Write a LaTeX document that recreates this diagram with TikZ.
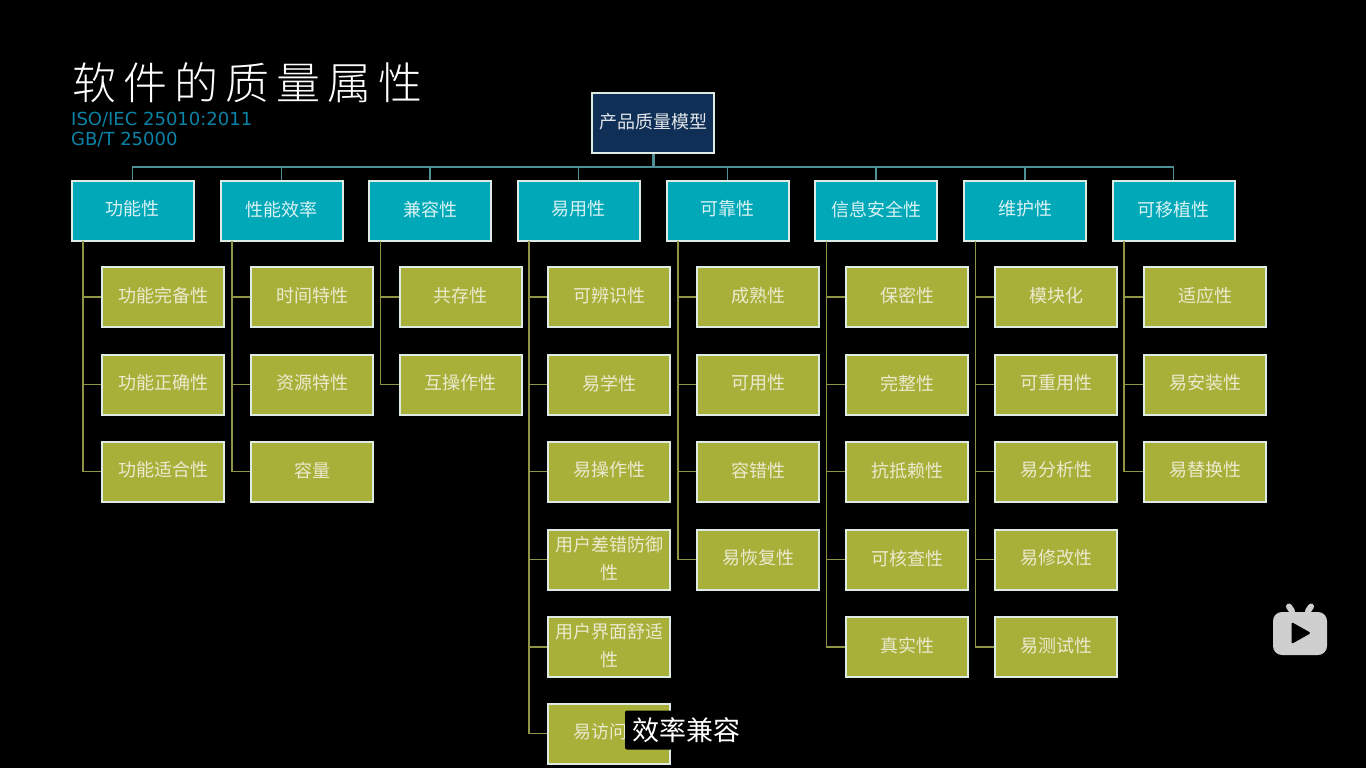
\documentclass[tikz,border=0pt]{standalone}
\usepackage{fontspec}
\setmainfont{Noto Sans CJK SC}
\newfontfamily\latinf{DejaVu Sans}
\newfontfamily\titlef[LetterSpace=16]{Noto Sans CJK SC Light}
\definecolor{navyfill}{HTML}{0F2F56}
\definecolor{tealfill}{HTML}{00A8B8}
\definecolor{olivefill}{HTML}{A9B03A}
\definecolor{tealline}{HTML}{4E9095}
\definecolor{oliveline}{HTML}{8F9545}
\definecolor{subblue}{HTML}{0B83A6}
\definecolor{edgec}{HTML}{DDEBE3}
\definecolor{logogrey}{HTML}{CFCFCF}
\newcommand{\liftstrut}{\rule[-4.2pt]{0pt}{0pt}}
\tikzset{
  boxbase/.style={draw=edgec,line width=2pt,minimum width=122pt,minimum height=60pt,inner sep=0pt,font=\fontsize{18}{28}\selectfont,align=center},
  rootbox/.style={boxbase,fill=navyfill,text=white!88!navyfill},
  headbox/.style={boxbase,fill=tealfill,text=white!85!tealfill},
  leafbox/.style={boxbase,fill=olivefill,text=white!75!olivefill},
  busline/.style={draw=tealline,line width=1.8pt},
  treeline/.style={draw=oliveline,line width=1.8pt},
}
\begin{document}
\begin{tikzpicture}[x=1pt,y=-1pt]
\fill[black] (0,0) rectangle (1366,768);
\useasboundingbox (0,0) rectangle (1366,768);
% title
\node[anchor=west,inner sep=0pt,text=white,font=\titlef\fontsize{44}{44}\selectfont] (title) at (72,83) {软件的质量属性};
\node[anchor=west,inner sep=0pt,text=subblue,font=\latinf\fontsize{18}{21}\selectfont] (sub1) at (71,120) {ISO/IEC 25010:2011};
\node[anchor=west,inner sep=0pt,text=subblue,font=\latinf\fontsize{18}{21}\selectfont] (sub2) at (71,140) {GB/T 25000};
% root
\node[rootbox] (root) at (653,123) {产品质量模型\liftstrut};
\coordinate (bus) at (653,167);
% heads
\foreach \n/\x/\t in {a/132.5/功能性,b/281.5/性能效率,c/430/兼容性,d/578.5/易用性,e/727.5/可靠性,f/876/信息安全性,g/1025/维护性,h/1173.5/可移植性}{
  \node[headbox] (\n) at (\x,210.5) {\t\liftstrut};
  \coordinate (\n t) at (\x-49.5,241);
  \draw[busline] (bus) -| (\n.north);
}
\draw[draw=tealline,line width=3pt] (root.south) -- (bus);
% leaves
\foreach \n/\hd/\x/\y/\t in {
 a1/a/163/297/功能完备性,a2/a/163/384.5/功能正确性,a3/a/163/471.5/功能适合性,
 b1/b/312/297/时间特性,b2/b/312/384.5/资源特性,b3/b/312/471.5/容量,
 c1/c/460.5/297/共存性,c2/c/460.5/384.5/互操作性,
 d1/d/609/297/可辨识性,d2/d/609/384.5/易学性,d3/d/609/471.5/易操作性,
 d4/d/609/559.5/用户差错防御\\性,d5/d/609/647/用户界面舒适\\性,d6/d/609/733.5/易访问性,
 e1/e/758/297/成熟性,e2/e/758/384.5/可用性,e3/e/758/471.5/容错性,e4/e/758/559.5/易恢复性,
 f1/f/907/297/保密性,f2/f/907/384.5/完整性,f3/f/907/471.5/抗抵赖性,f4/f/907/559.5/可核查性,f5/f/907/647/真实性,
 g1/g/1056/297/模块化,g2/g/1056/384.5/可重用性,g3/g/1056/471.5/易分析性,g4/g/1056/559.5/易修改性,g5/g/1056/647/易测试性,
 h1/h/1205/297/适应性,h2/h/1205/384.5/易安装性,h3/h/1205/471.5/易替换性}{
  \node[leafbox] (\n) at (\x,\y) {\t\liftstrut};
  \draw[treeline] (\hd t) |- (\n.west);
}
% caption
\node[fill=black,rounded corners=2pt,text=white,inner xsep=7pt,inner ysep=0pt,minimum height=39pt,font=\fontsize{27}{27}\selectfont] (caption) at (686,730) {效率兼容};
% logo
\fill[logogrey,rounded corners=9pt] (1273,612) rectangle (1327,655);
\draw[logogrey,line width=6pt,line cap=round] (1292,611) -- (1289,606.5);
\draw[logogrey,line width=6pt,line cap=round] (1308,611) -- (1311,606.5);
\fill[black,rounded corners=2pt] (1291.5,622) -- (1311,633) -- (1291.5,644) -- cycle;
\end{tikzpicture}
\end{document}
